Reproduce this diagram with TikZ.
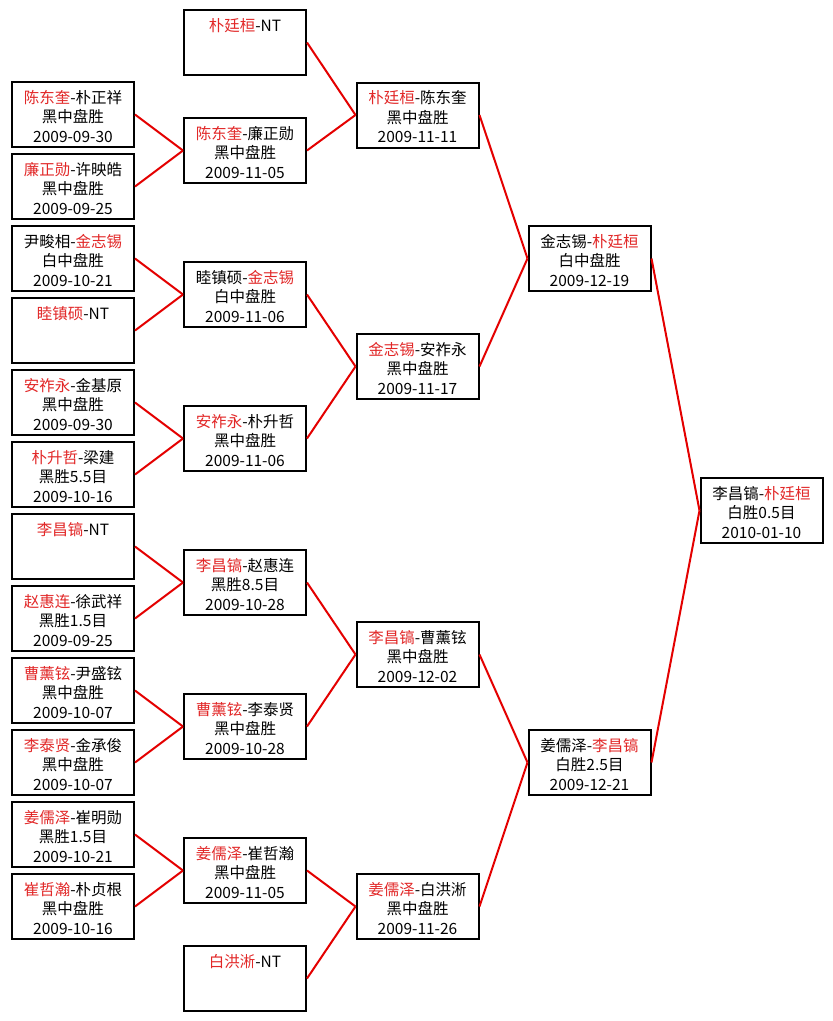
\documentclass[tikz,border=0pt]{standalone}
\usepackage{fontspec}
\newfontfamily\cjk{Noto Sans CJK SC}
\definecolor{nred}{RGB}{226,40,40}
\definecolor{lred}{RGB}{228,0,0}
\newcommand\rn[1]{\textcolor{nred}{#1}}
\newcommand\mt[3]{\parbox[c][65pt][t]{122pt}{\centering\baselineskip=19.5pt\rule{0pt}{21pt}#1\par #2\par #3\par}}
\tikzset{
  box/.style={draw=black, line width=2pt, fill=white, inner sep=0pt, minimum width=122pt, minimum height=65pt, font=\cjk\fontsize{15.5}{19.5}\selectfont},
  conn/.style={draw=lred, line width=2pt}
}
\begin{document}
\begin{tikzpicture}[x=1pt,y=-1pt]
\fill[white] (0,0) rectangle (833,1021);
\useasboundingbox (0,0) rectangle (833,1021);
% column 1
\node[box] (c1) at (73,114.5) {\mt{\rn{陈东奎}-朴正祥}{黑中盘胜}{2009-09-30}};
\node[box] (c2) at (73,186.5) {\mt{\rn{廉正勋}-许映皓}{黑中盘胜}{2009-09-25}};
\node[box] (c3) at (73,258.5) {\mt{尹畯相-\rn{金志锡}}{白中盘胜}{2009-10-21}};
\node[box] (c4) at (73,330.5) {\mt{\rn{睦镇硕}-NT}{}{}};
\node[box] (c5) at (73,402.5) {\mt{\rn{安祚永}-金基原}{黑中盘胜}{2009-09-30}};
\node[box] (c6) at (73,474.5) {\mt{\rn{朴升哲}-梁建}{黑胜5.5目}{2009-10-16}};
\node[box] (c7) at (73,546.5) {\mt{\rn{李昌镐}-NT}{}{}};
\node[box] (c8) at (73,618.5) {\mt{\rn{赵惠连}-徐武祥}{黑胜1.5目}{2009-09-25}};
\node[box] (c9) at (73,690.5) {\mt{\rn{曹薰铉}-尹盛铉}{黑中盘胜}{2009-10-07}};
\node[box] (c10) at (73,762.5) {\mt{\rn{李泰贤}-金承俊}{黑中盘胜}{2009-10-07}};
\node[box] (c11) at (73,834.5) {\mt{\rn{姜儒泽}-崔明勋}{黑胜1.5目}{2009-10-21}};
\node[box] (c12) at (73,906.5) {\mt{\rn{崔哲瀚}-朴贞根}{黑中盘胜}{2009-10-16}};
% column 2
\node[box] (b1) at (245,42.5) {\mt{\rn{朴廷桓}-NT}{}{}};
\node[box] (b2) at (245,150.5) {\mt{\rn{陈东奎}-廉正勋}{黑中盘胜}{2009-11-05}};
\node[box] (b3) at (245,294.5) {\mt{睦镇硕-\rn{金志锡}}{白中盘胜}{2009-11-06}};
\node[box] (b4) at (245,438.5) {\mt{\rn{安祚永}-朴升哲}{黑中盘胜}{2009-11-06}};
\node[box] (b5) at (245,582.5) {\mt{\rn{李昌镐}-赵惠连}{黑胜8.5目}{2009-10-28}};
\node[box] (b6) at (245,726.5) {\mt{\rn{曹薰铉}-李泰贤}{黑中盘胜}{2009-10-28}};
\node[box] (b7) at (245,870.5) {\mt{\rn{姜儒泽}-崔哲瀚}{黑中盘胜}{2009-11-05}};
\node[box] (b8) at (245,978.5) {\mt{\rn{白洪淅}-NT}{}{}};
% column 3
\node[box] (d1) at (417.5,115) {\mt{\rn{朴廷桓}-陈东奎}{黑中盘胜}{2009-11-11}};
\node[box] (d2) at (417.5,366.5) {\mt{\rn{金志锡}-安祚永}{黑中盘胜}{2009-11-17}};
\node[box] (d3) at (417.5,654.5) {\mt{\rn{李昌镐}-曹薰铉}{黑中盘胜}{2009-12-02}};
\node[box] (d4) at (417.5,906.5) {\mt{\rn{姜儒泽}-白洪淅}{黑中盘胜}{2009-11-26}};
% column 4
\node[box] (e1) at (589.5,258.5) {\mt{金志锡-\rn{朴廷桓}}{白中盘胜}{2009-12-19}};
\node[box] (e2) at (589.5,762.5) {\mt{姜儒泽-\rn{李昌镐}}{白胜2.5目}{2009-12-21}};
% final
\node[box] (f) at (761.5,510.5) {\mt{李昌镐-\rn{朴廷桓}}{白胜0.5目}{2010-01-10}};
% connectors
\foreach \a/\b in {c1/b2,c2/b2,c3/b3,c4/b3,c5/b4,c6/b4,c7/b5,c8/b5,c9/b6,c10/b6,c11/b7,c12/b7,
  b1/d1,b2/d1,b3/d2,b4/d2,b5/d3,b6/d3,b7/d4,b8/d4,d1/e1,d2/e1,d3/e2,d4/e2,e1/f,e2/f}
  \draw[conn] (\a.east) -- (\b.west);
\end{tikzpicture}
\end{document}
